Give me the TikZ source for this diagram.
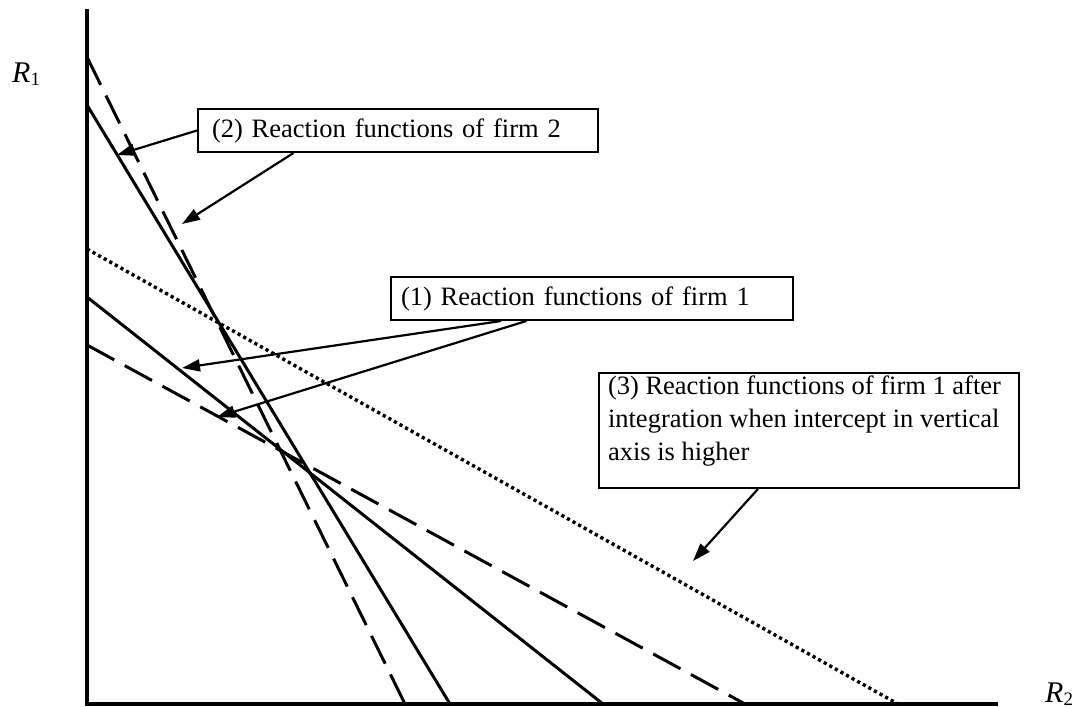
\documentclass[tikz,border=0pt]{standalone}
\usepackage{fontspec}
\setmainfont{Liberation Serif}
\usetikzlibrary{arrows.meta,calc}
\begin{document}
\begin{tikzpicture}[x=1pt,y=-1pt,
  axisline/.style={line width=3.8pt,line join=miter},
  solidline/.style={line width=3pt},
  dashline/.style={line width=3pt,dash pattern=on 31pt off 12pt},
  dotline/.style={line width=3.4pt,dash pattern=on 3.2pt off 3.2pt},
  box/.style={draw,fill=white,line width=2pt,anchor=north west,align=left,inner ysep=0pt,font=\fontsize{26.5}{33}\selectfont},
  pointer/.style={line width=2.2pt,-{Triangle[length=18pt,width=12pt]}},
  lab/.style={anchor=base west,inner sep=0pt,font=\fontsize{30}{30}\selectfont}
]
\useasboundingbox (0,0) rectangle (1077,707);

% axes
\coordinate (top) at (87,9);
\coordinate (origin) at (87,704);
\coordinate (right) at (998,704);
\draw[axisline] (top) -- (origin) -- (right);

% reaction lines
\coordinate (d2a) at (87,57);   \coordinate (d2b) at (405,704);
\coordinate (s2a) at (87,105);  \coordinate (s2b) at (450,704);
\coordinate (dta) at (87,249);  \coordinate (dtb) at (898,704);
\coordinate (s1a) at (87,297);  \coordinate (s1b) at (603,704);
\coordinate (d1a) at (87,345);  \coordinate (d1b) at (745,704);
\draw[dashline] (d2a) -- (d2b);
\draw[solidline] (s2a) -- (s2b);
\draw[dotline] (dta) -- (dtb);
\draw[solidline] (s1a) -- (s1b);
\draw[dashline] (d1a) -- (d1b);

% axis labels
\node[lab] (r1) at (12,82) {\textit{R}\raisebox{-3pt}{\fontsize{19}{19}\selectfont 1}};
\node[lab] (r2) at (1045,702) {\textit{R}\raisebox{-3pt}{\fontsize{19}{19}\selectfont 2}};

% boxes
\node[box,minimum width=400pt,minimum height=43pt,inner xsep=14pt,text width=372pt] (b2) at (197,108) {(2) Reaction functions of firm 2};
\node[box,minimum width=402pt,minimum height=43pt,inner xsep=10pt,text width=382pt] (b1) at (390,276) {(1) Reaction functions of firm 1};
\node[box,inner xsep=9pt,inner ysep=3pt] (b3) at (598,372) {\parbox[t][109pt][t]{402pt}{\raggedright (3) Reaction functions of firm 1 after\\ integration when intercept in vertical\\ axis is higher}};

% pointers
\coordinate (t2a) at (117,155);
\coordinate (t2b) at (182,224);
\coordinate (t1a) at (182,368);
\coordinate (t1b) at (217,417);
\coordinate (t3) at (693,561);
\draw[pointer] (b2.west) -- (t2a);
\draw[pointer] ($(b2.south west)!0.24!(b2.south east)$) -- (t2b);
\draw[pointer] ($(b1.south west)!0.275!(b1.south east)$) -- (t1a);
\draw[pointer] ($(b1.south west)!0.3375!(b1.south east)$) -- (t1b);
\draw[pointer] ($(b3.south west)!0.379!(b3.south east)$) -- (t3);
\end{tikzpicture}
\end{document}
